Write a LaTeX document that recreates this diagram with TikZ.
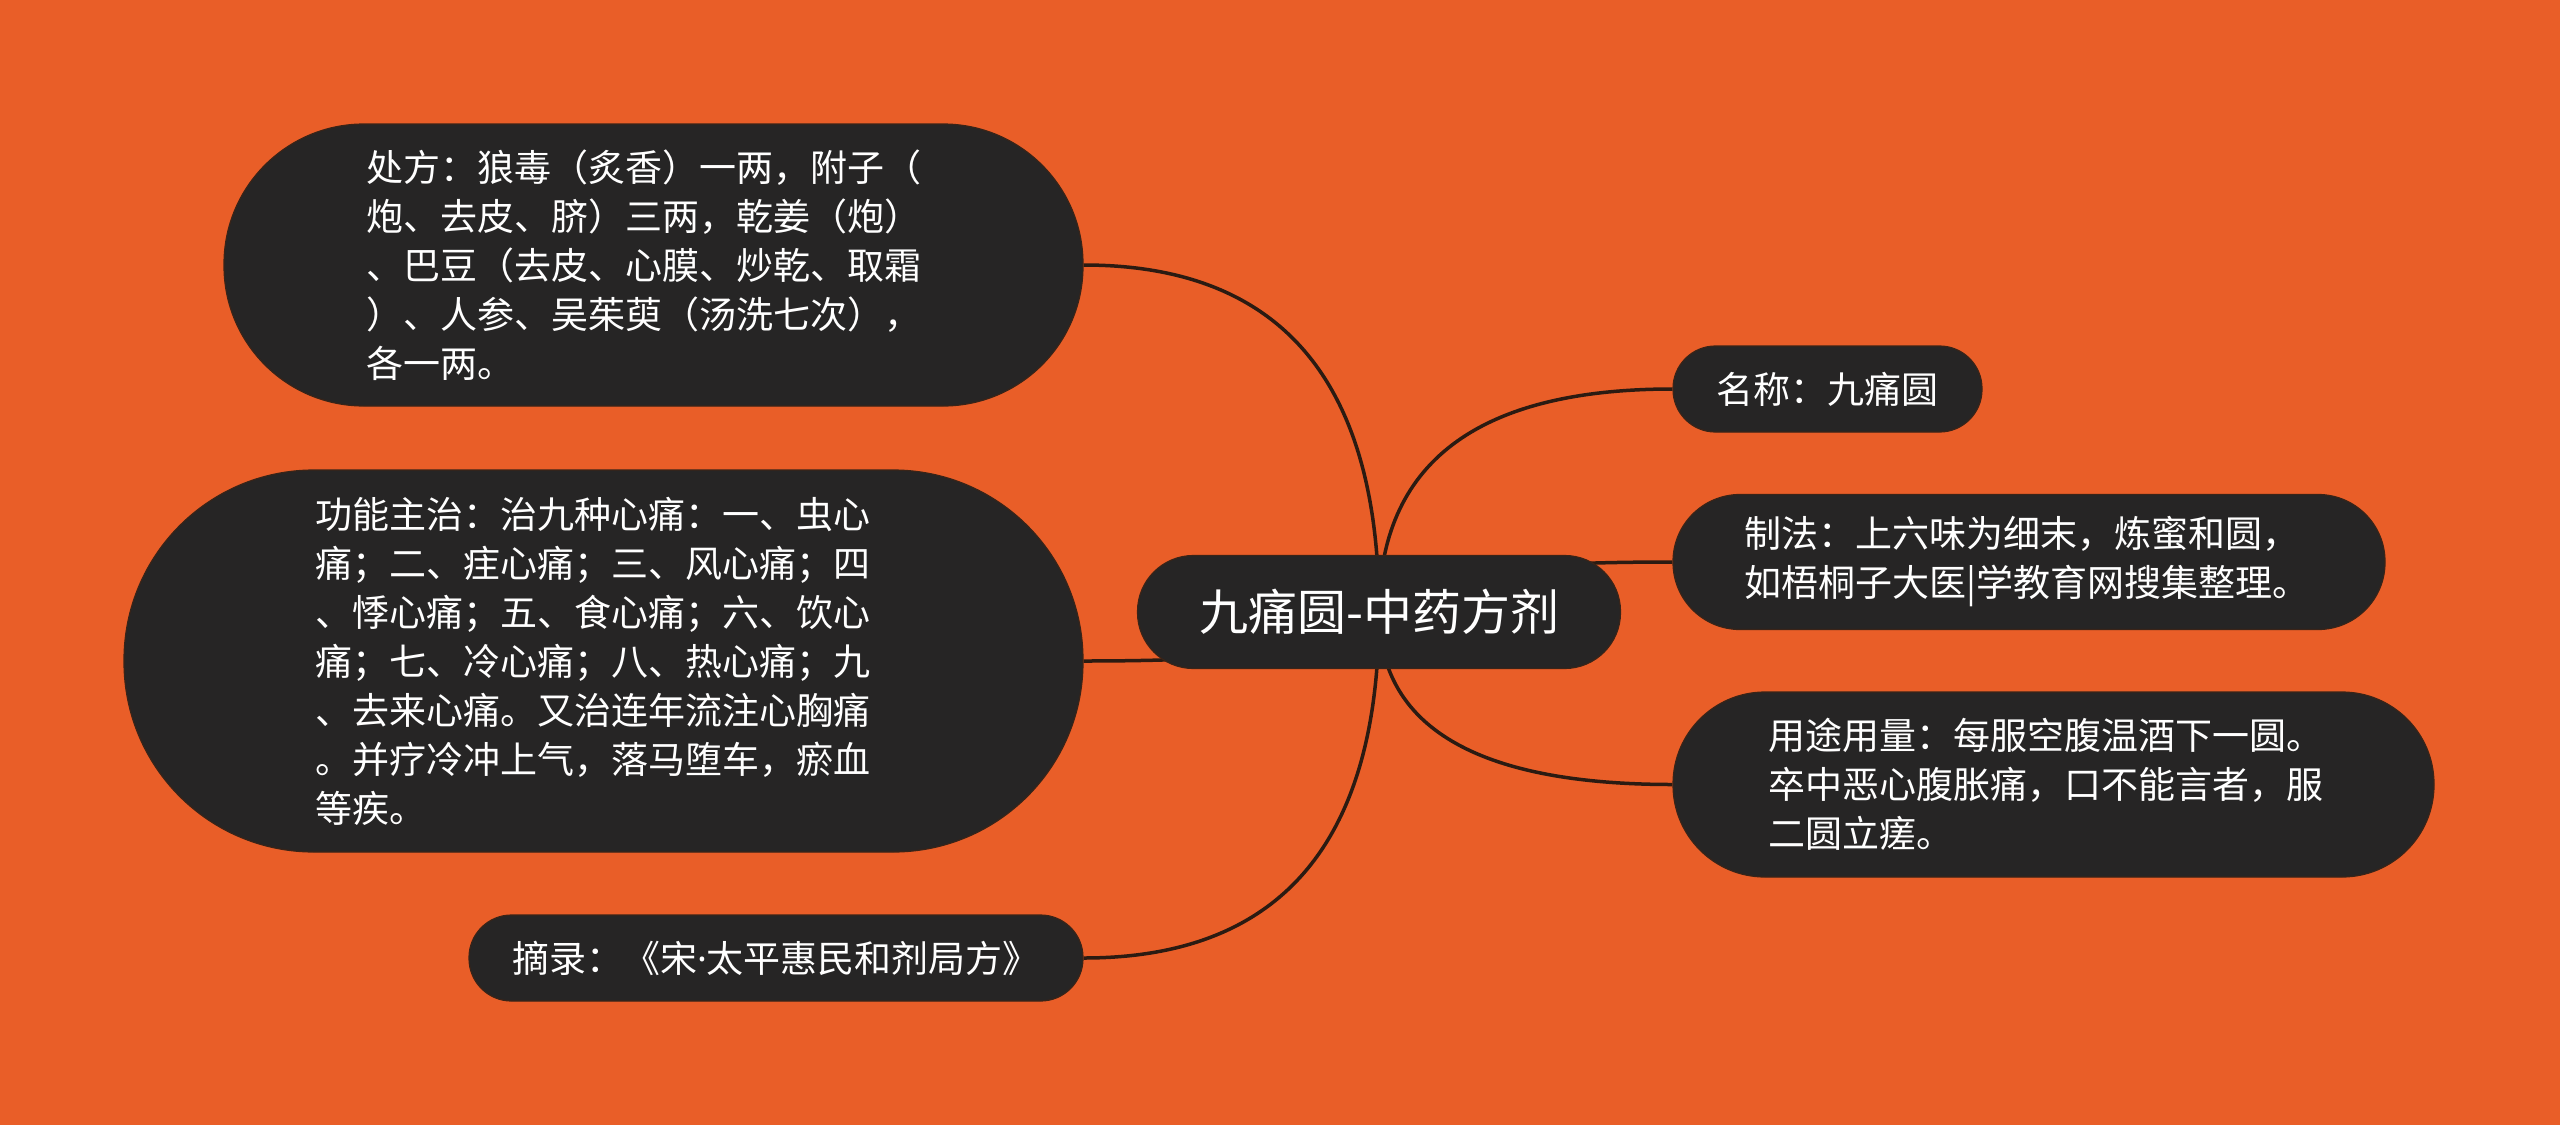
\documentclass[tikz,border=0pt]{standalone}
\usepackage{fontspec}
\newfontfamily\cjk{Noto Sans CJK SC}
\newfontfamily\latn{Noto Sans}
\usetikzlibrary{calc}
\definecolor{bgor}{HTML}{E95E28}
\definecolor{boxfill}{HTML}{262525}
\definecolor{boxline}{HTML}{3A2418}
\definecolor{linkc}{HTML}{2B1B12}
\pgfdeclarelayer{back}
\pgfdeclarelayer{links}
\pgfsetlayers{back,links,main}
\tikzset{
  mbox/.style={rectangle, fill=boxfill, draw=boxline, line width=1.2pt, text=white,
    align=left, inner sep=0pt, font=\cjk\fontsize{37}{49}\selectfont},
  link/.style={draw=linkc, line width=3.5pt},
}
\newcommand\qlink[2]{\draw[link] (#1.center) .. controls ($(#1.center)!0.6667!(#1.center |- #2)$) and ($(#2)!0.6667!(#1.center |- #2)$) .. (#2);}
\begin{document}
\begin{tikzpicture}[x=1pt,y=-1pt]
\begin{pgfonlayer}{back}
  \fill[bgor] (0,0) rectangle (2560,1125);
\end{pgfonlayer}
\useasboundingbox (0,0) rectangle (2560,1125);

\node[mbox, minimum width=483pt, minimum height=113pt, rounded corners=56pt,
  font=\cjk\fontsize{49}{59}\selectfont] (ctr) at (1379,612) {九痛圆-中药方剂};

\node[mbox, minimum width=859pt, minimum height=282pt, rounded corners=140pt, text width=575pt] (n1) at (653.5,265)
  {处方：狼毒（炙香）一两，附子（\\炮、去皮、脐）三两，乾姜（炮）\\、巴豆（去皮、心膜、炒乾、取霜\\）、人参、吴茱萸（汤洗七次），\\各一两。};

\node[mbox, minimum width=959pt, minimum height=382pt, rounded corners=190pt, text width=577pt] (n2) at (603.5,661)
  {功能主治：治九种心痛：一、虫心\\痛；二、疰心痛；三、风心痛；四\\、悸心痛；五、食心痛；六、饮心\\痛；七、冷心痛；八、热心痛；九\\、去来心痛。又治连年流注心胸痛\\。并疗冷冲上气，落马堕车，瘀血\\等疾。};

\node[mbox, minimum width=614pt, minimum height=86pt, rounded corners=42.5pt] (n3) at (776,958)
  {摘录：《宋{\latn ·}太平惠民和剂局方》};

\node[mbox, minimum width=309pt, minimum height=86pt, rounded corners=42.5pt] (n4) at (1827.5,389)
  {名称：九痛圆};

\node[mbox, minimum width=712pt, minimum height=135pt, rounded corners=67pt, text width=570pt] (n5) at (2029,562)
  {制法：上六味为细末，炼蜜和圆，\\如梧桐子大医|学教育网搜集整理。};

\node[mbox, minimum width=761pt, minimum height=185pt, rounded corners=92pt, text width=571pt] (n6) at (2053.5,784.5)
  {用途用量：每服空腹温酒下一圆。\\卒中恶心腹胀痛，口不能言者，服\\二圆立瘥。};

\begin{pgfonlayer}{links}
  \qlink{ctr}{n1.east}
  \qlink{ctr}{n2.east}
  \qlink{ctr}{n3.east}
  \qlink{ctr}{n4.west}
  \qlink{ctr}{n5.west}
  \qlink{ctr}{n6.west}
\end{pgfonlayer}
\end{tikzpicture}
\end{document}
